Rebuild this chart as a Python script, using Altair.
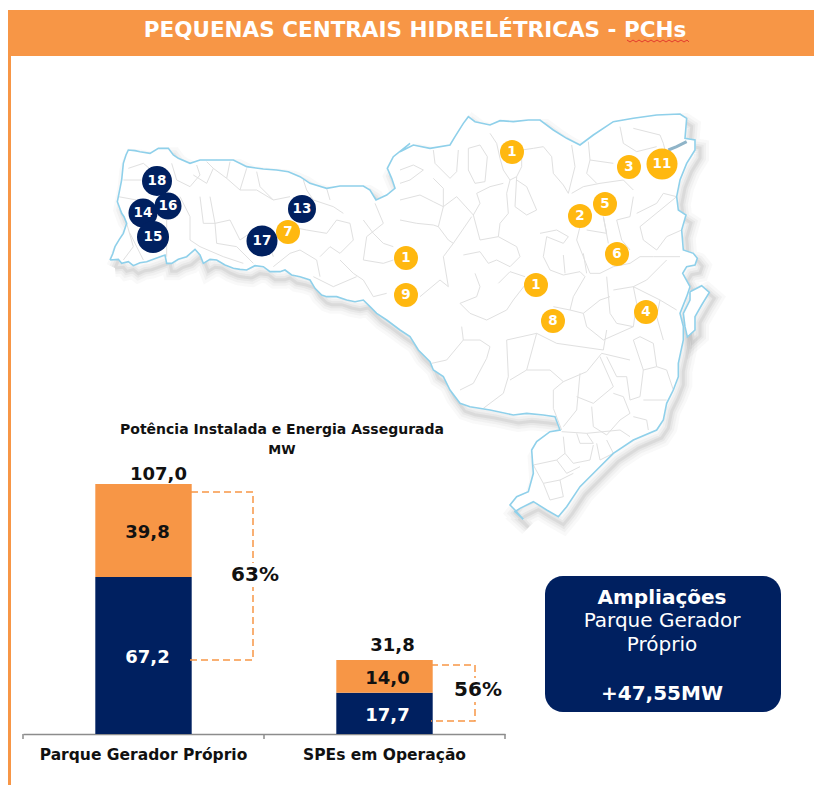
import altair as alt
import pandas as pd

# ---------- chart values ----------
categorias = ["Parque Gerador Próprio", "SPEs em Operação"]
energia_assegurada = [67.2, 17.7]
complemento = [39.8, 14.0]
rotulos_ea = ["67,2", "17,7"]
rotulos_co = ["39,8", "14,0"]
totais = [107.0, 31.7]
rotulos_totais = ["107,0", "31,8"]

# ---------- map trace as (zoom x, zoom y) per crop ----------
def pts(ox, oy, seq):
    return [(ox + a / 3, oy + b / 3) for a, b in seq]

contorno = (
    pts(100, 100, [(30,480),(38,462),(45,440),(58,418),(70,400),(80,370),(72,350),(65,340),(52,305),(55,290),(65,240),(70,190),(78,165),(85,150),(105,152),(120,155),(150,160),(175,145),(205,145),(220,165),(235,175),(270,190),(300,180),(350,180),(400,180),(440,200),(490,207),(530,210),(565,215),(600,230),(630,250),(680,265),(720,258),(790,258),(810,270),(828,300),(860,285),(885,265),(875,235),(862,205),(880,170),(930,130)])
    + pts(400, 100, [(0,155),(40,135),(90,145),(150,135),(165,110),(190,70),(205,50),(225,65),(270,75),(300,62),(340,65),(385,60),(420,60),(460,90),(500,115),(540,135),(580,105),(640,65),(700,55),(770,45),(840,42),(860,55),(855,115),(885,120),(885,150),(860,190),(840,240),(830,290),(835,330),(858,345),(845,390),(850,450),(880,460),(892,475),(885,495),(860,500),(848,520),(870,560),(860,590),(840,640),(850,680)])
    + pts(400, 320, [(850,60),(835,130),(835,170),(820,210),(800,250),(790,300),(770,330),(700,360),(640,400),(590,450),(540,500),(500,560),(475,590),(440,570),(400,545),(360,565),(345,575),(370,598),(345,570),(330,555),(350,530),(385,515),(400,460),(395,390),(410,365),(450,335),(480,330),(465,290),(430,285),(380,280),(340,285),(270,270),(210,260),(180,250),(150,210),(130,170),(100,150),(90,125),(55,90),(30,50),(0,30)])
    + pts(100, 100, [(860,660),(830,640),(810,620),(790,600),(765,605),(740,600),(710,590),(680,590),(665,585),(645,565),(630,540),(600,530),(575,525),(555,510),(540,515),(510,515),(490,500),(465,497),(440,510),(420,508),(400,505),(375,495),(350,480),(330,478),(310,490),(300,465),(285,448),(260,470),(235,478),(215,490),(200,490),(195,465),(160,478),(140,485),(120,488),(100,497),(85,485),(65,490),(55,478),(30,480)])
)
ilha = pts(400, 100, [(870,575),(905,557),(928,577),(905,615),(885,650),(885,690),(862,711),(855,680),(850,640),(870,600),(870,575)])
baia = pts(400, 100, [(805,150),(830,140),(860,125)])

municipios = [pts(400, 100, s) for s in [
    [(100,150),(105,190),(150,235),(170,215),(175,150)],
    [(205,145),(205,210),(225,250),(255,245),(262,170),(240,135),(205,145)],
    [(270,100),(290,130),(300,175),(310,210),(330,240),(350,230),(365,200),(365,150),(400,145),(430,140),(455,170),(460,220),(490,255),(505,280),(525,200),(515,135)],
    [(350,230),(345,320),(380,345),(410,330),(380,260),(350,240)],
    [(330,240),(320,280),(325,340),(300,370),(295,410),(240,420),(220,345),(240,310),(230,280),(270,260),(310,250)],
    [(0,210),(40,195),(70,210),(30,240),(0,250)],
    [(0,300),(60,285),(100,305),(130,320),(115,380),(145,420),(160,430),(215,350)],
    [(130,320),(170,290),(220,345)],
    [(0,360),(50,370),(100,375),(115,380)],
    [(100,235),(130,265),(130,320)],
    [(160,430),(130,470),(145,560),(120,540),(60,590)],
    [(190,465),(240,455),(265,490),(290,480),(330,500),(360,470),(350,440),(295,410)],
    [(225,520),(240,560),(230,590),(180,610),(210,640),(260,660),(320,630),(340,600),(375,555)],
    [(295,550),(330,515),(375,530)],
    [(440,410),(430,470),(450,510),(490,525),(540,515),(555,530),(520,590),(510,630),(460,620)],
    [(490,465),(495,520)],
    [(550,460),(560,520)],
    [(420,400),(470,390),(505,410),(490,430),(440,410)],
    [(515,280),(550,260),(600,250),(670,240),(700,270)],
    [(565,125),(570,180),(560,220),(590,250)],
    [(570,180),(640,190)],
    [(700,85),(780,105),(790,130),(800,170)],
    [(660,80),(670,130),(710,155),(770,140)],
    [(560,390),(620,400),(610,350)],
    [(610,350),(625,430)],
    [(540,380),(530,420),(570,520),(600,520),(640,500),(690,490),(720,470),(760,470),(840,470)],
    [(700,290),(690,350),(650,360),(665,420),(690,450)],
    [(710,340),(770,310),(790,280),(830,290),(720,380),(730,420),(770,450),(800,410),(845,390)],
    [(620,530),(630,640),(650,670),(700,680),(710,610),(700,560),(740,540),(780,500),(800,480)],
    [(780,600),(830,630)],
    [(640,570),(700,560),(780,600),(770,650),(790,720)],
    [(550,640),(560,680),(610,720),(700,680)],
    [(510,630),(550,640),(600,600),(630,590)],
]] + [pts(100, 100, s) for s in [
    [(85,205),(130,190),(160,215)],
    [(70,240),(125,240)],
    [(55,290),(110,300)],
    [(80,370),(100,440),(70,480)],
    [(90,400),(130,480)],
    [(215,190),(230,240),(270,260),(300,225),(290,195)],
    [(280,225),(320,250),(340,205),(320,185)],
    [(340,205),(380,235),(390,185)],
    [(380,235),(420,270),(440,205)],
    [(240,290),(270,350),(270,420),(300,440)],
    [(300,290),(310,370),(345,370),(390,360),(420,420),(480,380)],
    [(330,290),(345,370),(350,430),(410,440),(460,490)],
    [(420,270),(470,270),(520,300),(570,290)],
    [(470,215),(480,260),(520,300)],
    [(610,240),(620,270),(640,300),(700,320),(730,340)],
    [(680,265),(690,300)],
    [(570,380),(620,390),(680,400),(710,360),(750,370),(760,420),(720,460),(690,440),(660,470)],
    [(600,450),(650,480),(660,530)],
    [(720,480),(760,520),(790,540),(820,590),(860,580)],
    [(790,360),(820,400),(850,430),(880,440)],
    [(825,310),(850,370),(800,410),(790,480),(850,490),(880,480)],
    [(640,530),(700,560),(770,530)],
    [(300,440),(370,470),(430,490)],
    [(520,500),(570,460),(600,450)],
    [(490,380),(520,470)],
    [(200,360),(200,470)],
]] + [pts(400, 320, s) for s in [
    [(95,130),(140,120),(190,60),(240,60),(270,80),(260,115),(220,190),(180,210)],
    [(185,20),(190,60)],
    [(320,60),(410,40),(470,70),(540,80),(610,90),(620,30)],
    [(320,60),(325,170),(310,220),(250,265)],
    [(410,40),(380,150),(450,150),(490,185),(560,155),(605,100),(690,120)],
    [(490,185),(460,210),(460,265),(485,330)],
    [(330,180),(380,150)],
    [(540,160),(530,270),(490,320)],
    [(530,230),(580,250),(640,200),(600,110)],
    [(575,260),(580,320),(620,345),(660,300),(690,280),(670,230),(640,220)],
    [(650,170),(680,170),(690,240),(720,230),(730,150),(700,60),(720,50),(760,70),(770,140),(730,150)],
    [(770,140),(800,150),(820,210)],
    [(730,240),(800,240)],
    [(700,290),(740,300),(745,330)],
    [(485,335),(560,340),(660,330),(690,350)],
    [(530,340),(540,370),(580,370),(560,340)],
    [(490,350),(495,400),(470,420),(400,435)],
    [(495,400),(520,430),(570,420),(580,375)],
    [(590,370),(600,420),(640,400),(620,360)],
    [(470,420),(500,460),(540,440)],
    [(400,435),(430,490),(480,480),(520,460)],
    [(480,480),(490,530)],
    [(430,490),(450,540),(490,530)],
    [(620,110),(650,170)],
]]

usinas_x = [512, 629, 662, 605, 580, 617, 536, 553, 646, 406, 406, 288, 302, 262, 157, 143, 168, 153]
usinas_y = [152, 167, 164, 204, 216, 254, 285, 321, 312, 258, 295, 232, 209, 241, 181, 213, 206, 237]
usinas_n = ["1", "3", "11", "5", "2", "6", "1", "8", "4", "1", "9", "7", "13", "17", "18", "14", "16", "15"]
usinas_d = [24, 24, 31, 24, 24, 24, 24, 24, 24, 24, 24, 24, 28, 31, 30, 29, 27, 32]
usinas_c = ["o"] * 12 + ["n"] * 6

colchete_63_x = [191, 253, 253, 189]
colchete_63_y = [492, 492, 660, 660]
colchete_56_x = [431, 475, 475, 431]
colchete_56_y = [665, 665, 721, 721]
ondulado_x = [627, 630, 633, 636, 639, 642, 645, 648, 651, 654, 657, 660, 663, 666, 669, 672, 675, 678, 681, 684, 687, 689]
ondulado_y = [40, 42, 40, 42, 40, 42, 40, 42, 40, 42, 40, 42, 40, 42, 40, 42, 40, 42, 40, 42, 40, 42]
marcas_eixo_x = [23, 264, 505]

LARANJA = "#F79646"
AZUL = "#002060"
AMARELO = "#FFB810"
FONTE = "DejaVu Sans"

# picture-pixel scales shared by annotation layers
W, H = 806, 777
SX = alt.Scale(domain=[8, 8 + W], nice=False, zero=False)
SY = alt.Scale(domain=[8 + H, 8], nice=False, zero=False)
PX = lambda f="x": alt.X(f"{f}:Q", scale=SX, axis=None)
PY = lambda f="y": alt.Y(f"{f}:Q", scale=SY, axis=None)

def frame(seq):
    return pd.DataFrame({"x": [p[0] for p in seq], "y": [p[1] for p in seq], "i": range(len(seq))})

def rect(x, x2, y, y2, cor, **kw):
    d = pd.DataFrame({"x": [x], "x2": [x2], "y": [y], "y2": [y2]})
    return alt.Chart(d).mark_rect(color=cor, **kw).encode(x=PX(), x2="x2:Q", y=PY(), y2="y2:Q")

def texto(t, x, y, size, cor="black", bold=False, **kw):
    d = pd.DataFrame({"x": [x], "y": [y], "t": [t]})
    return alt.Chart(d).mark_text(font=FONTE, fontSize=size, color=cor, fontWeight="bold" if bold else "normal",
                                  align="center", baseline="middle", **kw).encode(x=PX(), y=PY(), text="t:N")

def linha(seq, **kw):
    return alt.Chart(frame(seq)).mark_line(**kw).encode(x=PX(), y=PY(), order="i:Q")

layers = []
# banner and stripe
layers += [rect(8, 814, 10, 56, LARANJA), rect(8, 11, 56, 785, LARANJA)]
layers.append(texto("PEQUENAS CENTRAIS HIDRELÉTRICAS - PCHs", 415, 31, 21.5, "white", True))
layers.append(linha(list(zip(ondulado_x, ondulado_y)), color="#E23B2E", strokeWidth=1))

# map shadow
sombra = [(x + 5, y + 8) for x, y in contorno]
sombra_ilha = [(x + 5, y + 6) for x, y in ilha]
for w, op in [(18, 0.04), (12, 0.06), (7, 0.08), (3, 0.10)]:
    layers.append(linha(sombra, color="#707070", strokeWidth=w, opacity=op))
    layers.append(linha(sombra_ilha, color="#707070", strokeWidth=w, opacity=op))
# map body
layers.append(linha(contorno, fill="white", stroke="white", strokeWidth=1))
layers.append(linha(ilha, fill="white", stroke="white", strokeWidth=1))
mm = pd.concat([frame(s).assign(k=j) for j, s in enumerate(municipios)])
layers.append(alt.Chart(mm).mark_line(color="#E0E0E0", strokeWidth=1).encode(x=PX(), y=PY(), detail="k:N", order="i:Q"))
layers.append(linha(contorno, color="#8FD0EA", strokeWidth=1.6))
layers.append(linha(ilha, color="#8FD0EA", strokeWidth=1.6))
layers.append(linha(baia, color="#8FB4C8", strokeWidth=3))

# plants
us = pd.DataFrame({"x": usinas_x, "y": usinas_y, "t": usinas_n, "d": usinas_d, "c": usinas_c, "i": range(18)})
us["s"] = us["d"] ** 2
layers.append(alt.Chart(us).mark_circle(opacity=1).encode(
    x=PX(), y=PY(), size=alt.Size("s:Q", scale=None, legend=None), order="i:Q",
    color=alt.Color("c:N", scale=alt.Scale(domain=["o", "n"], range=[AMARELO, AZUL]), legend=None)))
layers.append(alt.Chart(us).mark_text(font=FONTE, fontSize=13.5, fontWeight="bold", color="white", baseline="middle").encode(
    x=PX(), y=PY(), text="t:N"))

# chart heading
layers.append(texto("Potência Instalada e Energia Assegurada", 282, 430, 14, "#111111", True))
layers.append(texto("MW", 282, 450, 13, "#111111", True))

# stacked bars, through their own band and value scales
BX = alt.Scale(type="band", domain=categorias, range=[15, 497], paddingInner=0.6, paddingOuter=0.3)
BY = alt.Scale(domain=[0, 107], range=[726, 476], nice=False, zero=True)
bars = pd.DataFrame({
    "cat": categorias * 2,
    "serie": ["ea", "ea", "co", "co"],
    "v": energia_assegurada + complemento,
    "o": [0, 0, 1, 1],
})
layers.append(alt.Chart(bars).mark_bar().encode(
    x=alt.X("cat:N", scale=BX, axis=alt.Axis(
        title=None, labelAngle=0, offset=-51, ticks=False, grid=False,
        domainColor="#8C8C8C", domainWidth=1.5, labelLimit=400,
        labelFont=FONTE, labelFontWeight="bold", labelFontSize=15.5, labelColor="#111111", labelPadding=13)),
    y=alt.Y("v:Q", stack="zero", scale=BY, axis=None),
    order="o:Q",
    color=alt.Color("serie:N", scale=alt.Scale(domain=["ea", "co"], range=[AZUL, LARANJA]), legend=None),
))
# axis separators at the band limits
tk = pd.DataFrame({"x": marcas_eixo_x, "y": [734] * 3, "y2": [739] * 3})
layers.append(alt.Chart(tk).mark_rule(color="#8C8C8C", strokeWidth=1.5).encode(x=PX(), y=PY(), y2="y2:Q"))

def rotulo(cat, v, t, cor, size, dx, dy):
    d = pd.DataFrame({"cat": [cat], "v": [v], "t": [t]})
    return alt.Chart(d).mark_text(font=FONTE, fontSize=size, fontWeight="bold", color=cor, dx=dx, dy=dy, baseline="middle").encode(
        x=alt.X("cat:N", scale=BX, axis=None), y=alt.Y("v:Q", scale=BY, axis=None), text="t:N")

for i, c in enumerate(categorias):
    a, b = energia_assegurada[i], complemento[i]
    layers.append(rotulo(c, a / 2, rotulos_ea[i], "white", 18, 4 - i, 2.5))
    layers.append(rotulo(c, a + b / 2, rotulos_co[i], "#111111", 18, 4 - i, 2.5))
layers.append(rotulo(categorias[0], totais[0], rotulos_totais[0], "#111111", 18, 15, -9))
layers.append(rotulo(categorias[1], totais[1], rotulos_totais[1], "#111111", 18, 8, -14))

# brackets
layers.append(linha(list(zip(colchete_63_x, colchete_63_y)), color=LARANJA, strokeWidth=1.5, strokeDash=[7, 4]))
layers.append(linha(list(zip(colchete_56_x, colchete_56_y)), color=LARANJA, strokeWidth=1.5, strokeDash=[7, 4]))
layers.append(rect(232, 278, 563, 587, "white"))
layers.append(rect(455, 501, 678, 702, "white"))
layers.append(texto("63%", 255, 575, 20, "#111111", True))
layers.append(texto("56%", 478, 690, 20, "#111111", True))

# callout
layers.append(rect(545, 781, 576, 712, AZUL, cornerRadius=18))
layers.append(texto("Ampliações", 662, 598, 20, "white", True))
layers.append(texto("Parque Gerador", 662, 621, 20, "white"))
layers.append(texto("Próprio", 662, 645, 20, "white"))
layers.append(texto("+47,55MW", 662, 694, 20, "white", True))

chart = (
    alt.layer(*layers)
    .resolve_scale(x="independent", y="independent", color="independent", size="independent")
    .properties(width=W, height=H, padding=0, autosize=alt.AutoSizeParams(type="none"), background="white")
    .configure_view(stroke=None)
)
chart.save("out.html", embed_options={"renderer": "svg", "actions": False})
